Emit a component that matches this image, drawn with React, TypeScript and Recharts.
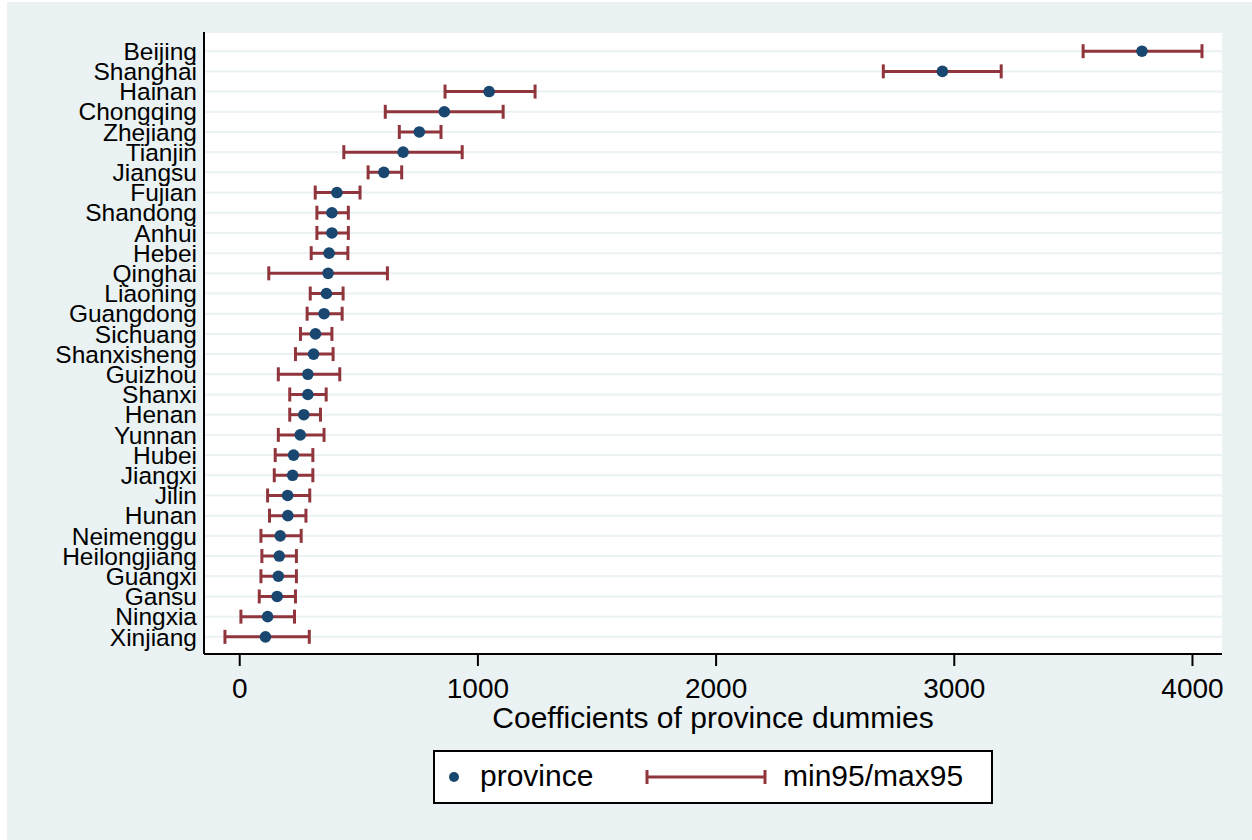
import React from "react";
import {
  ScatterChart,
  Scatter,
  ErrorBar,
  XAxis,
  YAxis,
  CartesianGrid,
  Label,
} from "recharts";

const provinces = [
  "Beijing", "Shanghai", "Hainan", "Chongqing", "Zhejiang", "Tianjin", "Jiangsu", "Fujian",
  "Shandong", "Anhui", "Hebei", "Qinghai", "Liaoning", "Guangdong", "Sichuang", "Shanxisheng",
  "Guizhou", "Shanxi", "Henan", "Yunnan", "Hubei", "Jiangxi", "Jilin", "Hunan",
  "Neimenggu", "Heilongjiang", "Guangxi", "Gansu", "Ningxia", "Xinjiang",
];
const coef = [
  3788, 2950, 1047, 859, 754, 686, 605, 408,
  387, 387, 375, 371, 364, 354, 318, 310,
  286, 286, 269, 254, 226, 222, 201, 202,
  170, 166, 162, 157, 117, 108,
];
const min95 = [
  3541, 2702, 862, 611, 670, 437, 539, 317,
  324, 324, 300, 122, 296, 283, 255, 234,
  162, 210, 210, 162, 149, 145, 117, 125,
  89, 93, 89, 82, 5, -62,
];
const max95 = [
  4040, 3197, 1240, 1106, 845, 934, 680, 505,
  456, 456, 454, 620, 434, 430, 387, 392,
  420, 363, 339, 354, 307, 307, 294, 278,
  258, 238, 238, 234, 230, 292,
];
const xTicks = [0, 1000, 2000, 3000, 4000];

const rows = provinces.map((name, i) => ({
  name,
  idx: i,
  coef: coef[i],
  err: [coef[i] - min95[i], max95[i] - coef[i]],
}));

const NAVY = "#1A476F";
const MAROON = "#90353B";
const BG = "#EAF2F3";
const FONT = "'Liberation Sans', Arial, sans-serif";

const dot = (p: any) => <circle cx={p.cx} cy={p.cy} r={5.8} fill={NAVY} />;
const none = () => <g />;

function LegendBox() {
  return (
    <div
      style={{
        position: "absolute",
        left: 433,
        top: 750,
        width: 560,
        height: 54,
        boxSizing: "border-box",
        border: "2px solid #000",
        background: "#fff",
        fontFamily: FONT,
        fontSize: 30,
        lineHeight: "34px",
        color: "#000",
      }}
    >
      <svg width={560} height={50} style={{ position: "absolute", left: 0, top: 0 }}>
        <circle cx={19} cy={25} r={5} fill={NAVY} />
        <line x1={212} y1={25} x2={330} y2={25} stroke={MAROON} strokeWidth={3} />
        <line x1={212} y1={18} x2={212} y2={32} stroke={MAROON} strokeWidth={3} />
        <line x1={330} y1={18} x2={330} y2={32} stroke={MAROON} strokeWidth={3} />
      </svg>
      <span style={{ position: "absolute", left: 45, top: 7 }}>province</span>
      <span style={{ position: "absolute", left: 348, top: 7 }}>min95/max95</span>
    </div>
  );
}

export default function App() {
  return (
    <div style={{ position: "absolute", left: 0, top: 0, width: 1252, height: 840, background: "#fff" }}>
      <div style={{ position: "absolute", left: 7, top: 2, right: 0, bottom: 0, background: BG }} />
      <div style={{ position: "absolute", left: 0, top: 0 }}>
        <ScatterChart
          width={1252}
          height={840}
          data={rows}
          margin={{ top: 32, right: 30, left: 0, bottom: 106 }}
          style={{ fontFamily: FONT }}
        >
          <CartesianGrid vertical={false} stroke={BG} strokeWidth={2} fill="#fff" fillOpacity={1} />
          <XAxis
            type="number"
            dataKey="coef"
            domain={[-150, 4124]}
            ticks={xTicks}
            allowDataOverflow
            axisLine={{ stroke: "#000", strokeWidth: 2 }}
            tickLine={{ stroke: "#000", strokeWidth: 2 }}
            tickSize={12}
            tickMargin={12}
            tick={{ fontSize: 28, fill: "#000", fontFamily: FONT }}
            height={80}
          >
            <Label
              value="Coefficients of province dummies"
              position="insideBottom"
              offset={6}
              style={{ fontSize: 30, fill: "#000", fontFamily: FONT }}
            />
          </XAxis>
          <YAxis
            type="number"
            dataKey="idx"
            domain={[-0.95, 29.85]}
            reversed
            ticks={rows.map((r) => r.idx)}
            interval={0}
            tickFormatter={(v) => provinces[v] ?? ""}
            axisLine={{ stroke: "#000", strokeWidth: 2 }}
            tickLine={false}
            tickMargin={1}
            width={204}
            tick={{ fontSize: 24.5, fill: "#000", fontFamily: FONT }}
          />
          <Scatter data={rows} dataKey="coef" shape={dot} isAnimationActive={false} />
          <Scatter data={rows} dataKey="coef" shape={none} isAnimationActive={false}>
            <ErrorBar dataKey="err" direction="x" width={7} stroke={MAROON} strokeWidth={3} />
          </Scatter>
        </ScatterChart>
      </div>
      <LegendBox />
    </div>
  );
}
